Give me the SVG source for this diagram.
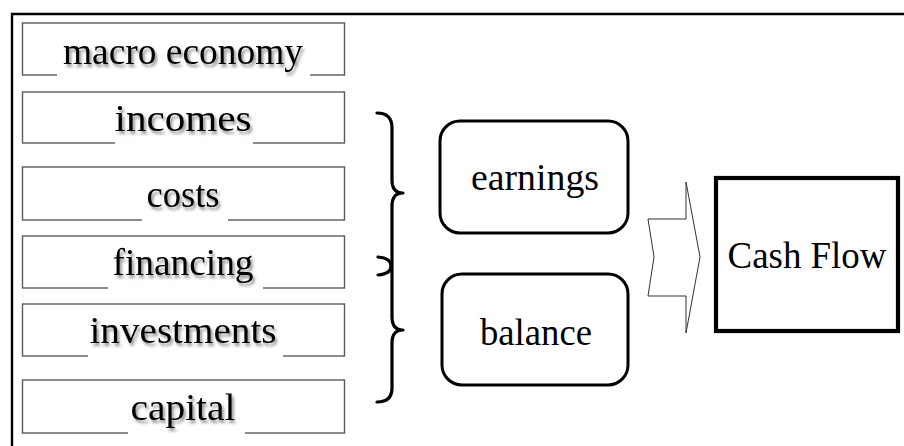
<svg xmlns="http://www.w3.org/2000/svg" width="904" height="446" viewBox="0 0 904 446">
  <defs>
    <filter id="shadow" x="-10%" y="-20%" width="130%" height="160%">
      <feGaussianBlur in="SourceAlpha" stdDeviation="1.6" result="b"/>
      <feOffset in="b" dx="2" dy="2.5" result="o"/>
      <feFlood flood-color="#000" flood-opacity="0.45"/>
      <feComposite in2="o" operator="in" result="s"/>
      <feMerge>
        <feMergeNode in="s"/>
        <feMergeNode in="SourceGraphic"/>
      </feMerge>
    </filter>
  </defs>
  <style>
    .frame { fill: none; stroke: #000; stroke-width: 2.4; }
    .item { fill: #fff; stroke: #5a5a5a; stroke-width: 1.4; }
    .gap { fill: #fff; stroke: none; }
    .lbl { font-family: "Liberation Serif", "Times New Roman", serif; font-size: 38px; fill: #000; text-anchor: middle; }
    .shd { filter: url(#shadow); }
    .stmt { fill: #fff; stroke: #000; stroke-width: 3; }
    .brace { fill: none; stroke: #000; stroke-width: 3.2; stroke-linecap: round; stroke-linejoin: round; }
    .flow { fill: #fff; stroke: #333; stroke-width: 1; }
    .result { fill: #fff; stroke: #000; stroke-width: 4.2; }
  </style>

  <rect width="904" height="446" fill="#fff"/>

  <!-- outer frame: top and left edges only -->
  <path class="frame" d="M12,446 V14 H904"/>

  <!-- input factors -->
  <g id="macro-economy">
    <rect class="item" x="22.5" y="23" width="322" height="52"/>
    <rect class="gap" x="57" y="34" width="253" height="43"/>
    <text class="lbl shd" x="183" y="64" textLength="240" lengthAdjust="spacingAndGlyphs">macro economy</text>
  </g>
  <g id="incomes">
    <rect class="item" x="22.5" y="92" width="322" height="51"/>
    <rect class="gap" x="115" y="102" width="138" height="43"/>
    <text class="lbl shd" x="183" y="131" textLength="137" lengthAdjust="spacingAndGlyphs">incomes</text>
  </g>
  <g id="costs">
    <rect class="item" x="22.5" y="167" width="322" height="53"/>
    <rect class="gap" x="142" y="178" width="86" height="44"/>
    <text class="lbl shd" x="183" y="207" textLength="73" lengthAdjust="spacingAndGlyphs">costs</text>
  </g>
  <g id="financing">
    <rect class="item" x="22.5" y="236" width="322" height="52"/>
    <rect class="gap" x="108" y="246" width="155" height="44"/>
    <text class="lbl shd" x="183" y="275" textLength="141" lengthAdjust="spacingAndGlyphs">financing</text>
  </g>
  <g id="investments">
    <rect class="item" x="22.5" y="304" width="322" height="52"/>
    <rect class="gap" x="88" y="314" width="195" height="44"/>
    <text class="lbl shd" x="183" y="343" textLength="187" lengthAdjust="spacingAndGlyphs">investments</text>
  </g>
  <g id="capital">
    <rect class="item" x="22.5" y="380" width="322" height="53"/>
    <rect class="gap" x="128" y="391" width="117" height="44"/>
    <text class="lbl shd" x="183" y="420" textLength="105" lengthAdjust="spacingAndGlyphs">capital</text>
  </g>

  <!-- connectors: brace grouping the factors and the block arrow -->
  <g id="connectors">
    <path class="brace" d="M377,113 Q392,113 392,128 V180 Q392,193 403,193 Q392,193 392,206 V317 Q392,330 403,330 Q392,330 392,343 V388 Q392,402 377,402"/>
    <path class="brace" d="M378,257 Q391,258 391,266 Q391,274 378,275"/>
    <polygon class="flow" points="648,219 686,219 686,182 700,257 686,333 686,296 648,296 654,257"/>
  </g>

  <!-- statements -->
  <g id="earnings">
    <rect class="stmt" x="440" y="121" width="188" height="112" rx="20" ry="20"/>
    <text class="lbl" x="535" y="190" textLength="128" lengthAdjust="spacingAndGlyphs">earnings</text>
  </g>
  <g id="balance">
    <rect class="stmt" x="442" y="274" width="186" height="111" rx="20" ry="20"/>
    <text class="lbl" x="536" y="345" textLength="112" lengthAdjust="spacingAndGlyphs">balance</text>
  </g>

  <!-- result -->
  <g id="cash-flow">
    <rect class="result" x="716" y="178" width="182" height="153"/>
    <text class="lbl" x="807" y="268" textLength="159" lengthAdjust="spacingAndGlyphs">Cash Flow</text>
  </g>
</svg>
